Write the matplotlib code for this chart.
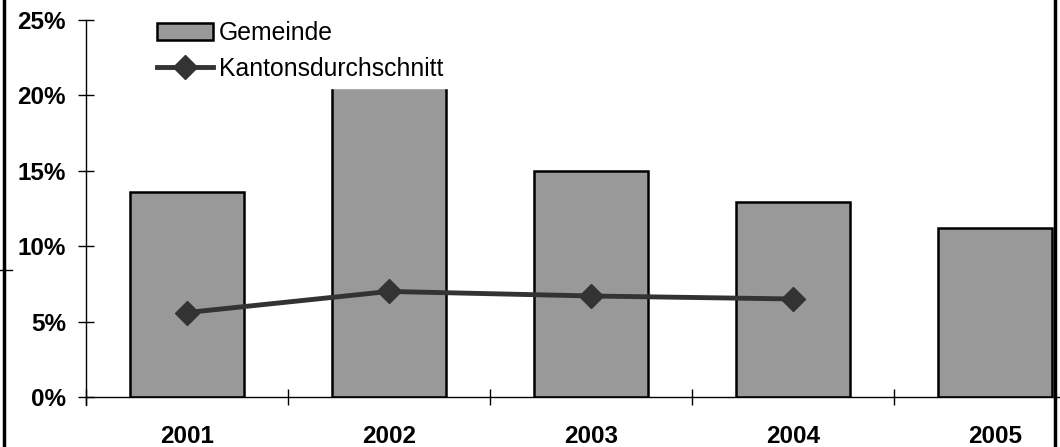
import matplotlib
matplotlib.use("Agg")
import matplotlib.pyplot as plt
from matplotlib.lines import Line2D
import numpy as np

plt.rcParams['font.family'] = ['Liberation Sans', 'DejaVu Sans']

years = ["2001", "2002", "2003", "2004", "2005"]
gemeinde = [13.6, 22.0, 15.0, 12.9, 11.2]
kanton = [5.6, 7.0, 6.7, 6.5]
yticks = [0, 5, 10, 15, 20, 25]
ytick_labels = ["0%", "5%", "10%", "15%", "20%", "25%"]

W, H = 1060, 447
fig = plt.figure(figsize=(W / 100, H / 100), dpi=100)
ax = fig.add_axes([86 / W, (H - 397) / H, 1010 / W, 377 / H])

x = np.arange(len(years))
bars = ax.bar(x, gemeinde, width=0.56, color="#999999", edgecolor="black",
              linewidth=1.8, label="Gemeinde", zorder=2)
line, = ax.plot(x[:len(kanton)], kanton, color="#333333", linewidth=3.5,
                marker="D", markersize=12.5, label="Kantonsdurchschnitt", zorder=3)

ax.set_xlim(-0.5, len(years) - 0.5)
ax.set_ylim(0, 25)
ax.set_yticks(yticks)
ax.set_yticklabels(ytick_labels, fontsize=17.5, fontweight="bold")
ax.set_xticks(x)
ax.set_xticklabels(years, fontsize=17.5, fontweight="bold")
ax.tick_params(axis="x", length=0, pad=20)
ax.set_xticks(np.arange(len(years) + 1) - 0.5, minor=True)
ax.tick_params(axis="x", which="minor", direction="inout", length=11.5, width=1)
ax.tick_params(axis="y", direction="inout", length=11, width=1, pad=9)
for s in ["top", "right"]:
    ax.spines[s].set_visible(False)
ax.spines["left"].set_linewidth(1)
ax.spines["bottom"].set_linewidth(1)
ax.spines["left"].set_bounds(-0.5, 25)

leg = ax.legend([bars, line], ["Gemeinde", "Kantonsdurchschnitt"],
                loc="lower left",
                bbox_to_anchor=(150 / W, 1 - 88 / H, 310 / W, 80 / H),
                bbox_transform=fig.transFigure, mode="expand",
                frameon=True, fontsize=17.8, handlelength=2.25, handletextpad=0.25,
                borderpad=0.3, labelspacing=0.45, borderaxespad=0, fancybox=False)
leg.get_frame().set_edgecolor("white")
leg.get_frame().set_facecolor("white")
leg.get_frame().set_alpha(1)
leg.set_zorder(10)

# figure frame lines
fig.add_artist(Line2D([4 / W, 4 / W], [0, 1], color="black", linewidth=2.5))
fig.add_artist(Line2D([1055 / W, 1055 / W], [0, 1], color="black", linewidth=2.5))
fig.add_artist(Line2D([0, 12 / W], [1 - 270 / H, 1 - 270 / H], color="black", linewidth=1))

fig.savefig("out.png", dpi=100)
